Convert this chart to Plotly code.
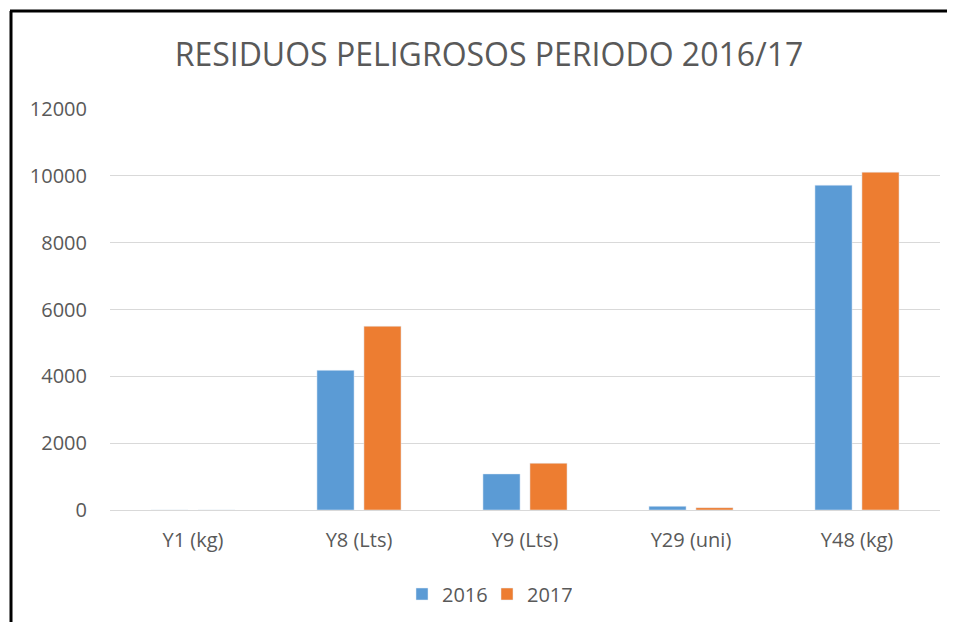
import plotly.graph_objects as go

categories = ["Y1 (kg)", "Y8 (Lts)", "Y9 (Lts)", "Y29 (uni)", "Y48 (kg)"]
values_2016 = [0, 4180, 1080, 110, 9720]
values_2017 = [0, 5500, 1400, 70, 10110]
series_names = ["2016", "2017"]
y_ticks = [0, 2000, 4000, 6000, 8000, 10000, 12000]
title_text = "RESIDUOS PELIGROSOS PERIODO 2016/17"

FONT = "Open Sans"
GREY = "#595959"

fig = go.Figure()
fig.add_trace(go.Bar(x=categories, y=values_2016, name=series_names[0], marker_color="#5B9BD5"))
fig.add_trace(go.Bar(x=categories, y=values_2017, name=series_names[1], marker_color="#ED7D31"))

O = 8  # page body margin offset
W, H = 955 - 2 * O, 622 - O
# target plot area in screenshot coords: x 110..940, y 109..510
L = 110 - O
R = W - (940 - O)
T = 109 - O
B = H - (510 - O)
pw = W - L - R
ph = H - T - B

def px(xs):
    return (xs - O - L) / pw

def py(ys):
    return (H - B - (ys - O)) / ph

fig.update_layout(
    width=W, height=H,
    margin=dict(l=L, r=R, t=T, b=B, pad=0, autoexpand=False),
    paper_bgcolor="white", plot_bgcolor="white",
    barmode="group", bargap=0.434, bargroupgap=0.21,
    font=dict(family=FONT, color=GREY, size=20),
    title=dict(text=title_text, font=dict(family=FONT, size=32, color=GREY),
               x=px(489), xref="paper", xanchor="center",
               y=(H - (55 - O)) / H, yref="container", yanchor="middle"),
    legend=dict(orientation="h", x=px(487), xanchor="center", y=py(594), yanchor="middle",
                font=dict(size=20, color=GREY), itemwidth=30, entrywidth=40,
                traceorder="normal"),
    xaxis=dict(showgrid=False, showline=False, ticks="", ticklabelstandoff=16,
               tickfont=dict(size=20, color=GREY)),
    yaxis=dict(range=[0, 12000], tickvals=y_ticks, tickformat="d", showgrid=True,
               gridcolor="#D9D9D9", gridwidth=1, zeroline=True, zerolinecolor="#D9D9D9",
               zerolinewidth=1, showline=False, ticks="", ticklabelstandoff=22,
               tickfont=dict(size=20, color=GREY)),
    shapes=[
        dict(type="line", xref="paper", yref="paper", x0=px(11), x1=px(11), y0=py(660), y1=py(11),
             line=dict(color="black", width=3)),
        dict(type="line", xref="paper", yref="paper", x0=px(10), x1=px(980), y0=py(11), y1=py(11),
             line=dict(color="black", width=3)),
    ],
)

fig.write_html("out.html")
